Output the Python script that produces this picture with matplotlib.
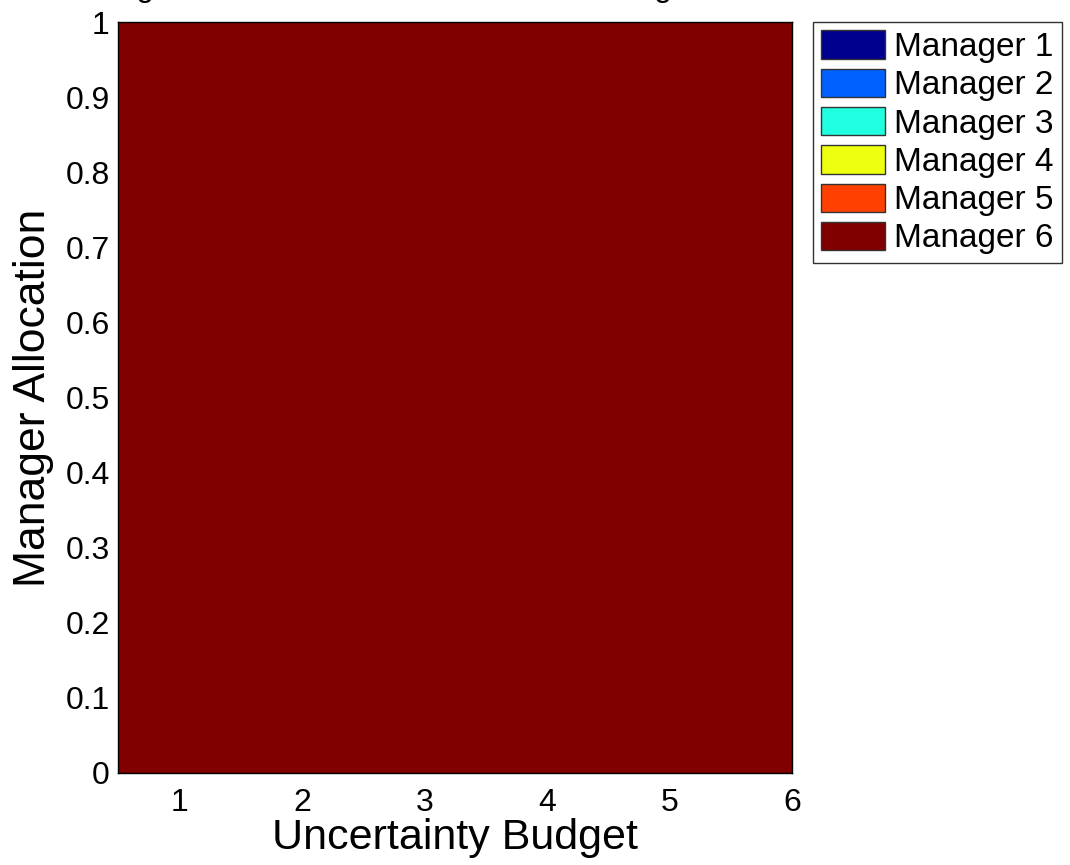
import numpy as np
import matplotlib
matplotlib.use("Agg")
import matplotlib.pyplot as plt

plt.rcParams["font.family"] = ["Liberation Sans", "DejaVu Sans"]

# uncertainty budgets and allocation of each manager (stacked to 1)
budgets = [1, 2, 3, 4, 5, 6]
managers = ["Manager 1", "Manager 2", "Manager 3", "Manager 4", "Manager 5", "Manager 6"]
alloc_m1 = [0, 0, 0, 0, 0, 0]
alloc_m2 = [0, 0, 0, 0, 0, 0]
alloc_m3 = [0, 0, 0, 0, 0, 0]
alloc_m4 = [0, 0, 0, 0, 0, 0]
alloc_m5 = [0, 0, 0, 0, 0, 0]
alloc_m6 = [1, 1, 1, 1, 1, 1]
colors = ["#00008f", "#0060ff", "#20ffe0", "#efff10", "#ff4000", "#800000"]
yticks = [0, 0.1, 0.2, 0.3, 0.4, 0.5, 0.6, 0.7, 0.8, 0.9, 1]

fig = plt.figure(figsize=(10.7, 8.65), dpi=100)
ax = fig.add_axes([118 / 1070, 1 - 773 / 865, (792 - 118) / 1070, (773 - 22) / 865])

series = [alloc_m1, alloc_m2, alloc_m3, alloc_m4, alloc_m5, alloc_m6]
bottom = np.zeros(len(budgets))
handles = []
for name, vals, c in zip(managers, series, colors):
    ax.bar(budgets, vals, width=1.0, bottom=bottom, color=c,
           edgecolor="none", linewidth=0, label=name)
    bottom += np.array(vals, dtype=float)
    handles.append(plt.Rectangle((0, 0), 1, 1, facecolor=c, edgecolor="#333333", linewidth=1))

ax.set_xlim(0.5, 6)
ax.set_ylim(0, 1)
ax.set_xticks(budgets)
ax.set_yticks(yticks)
ax.set_yticklabels([f"{v:g}" for v in yticks])
ax.tick_params(direction="in", labelsize=23, length=0)
ax.tick_params(axis="x", pad=11)
ax.tick_params(axis="y", pad=6)
for s in ax.spines.values():
    s.set_color("black")
    s.set_linewidth(1)

ax.set_xlabel("Uncertainty Budget", fontsize=31, labelpad=0)
ax.set_ylabel("Manager Allocation", fontsize=32, labelpad=8)

# title sits above the canvas, only its descenders show
fig.text((118 + 792) / 2 / 1070, 1 + 4 / 865, "Manager Allocation Under the Robust Budget Constraint",
         ha="center", va="baseline", fontsize=23)

leg = fig.legend(handles, managers, loc="upper left", bbox_to_anchor=(813 / 1070, 1 - 22 / 865),
                 bbox_transform=fig.transFigure, fontsize=24, frameon=True, fancybox=False,
                 borderaxespad=0, borderpad=0.25, handlelength=1.9, handleheight=0.93,
                 handletextpad=0.28, labelspacing=0.17)
leg.get_frame().set_edgecolor("black")
leg.get_frame().set_linewidth(1)

fig.savefig("out.png", dpi=100)
